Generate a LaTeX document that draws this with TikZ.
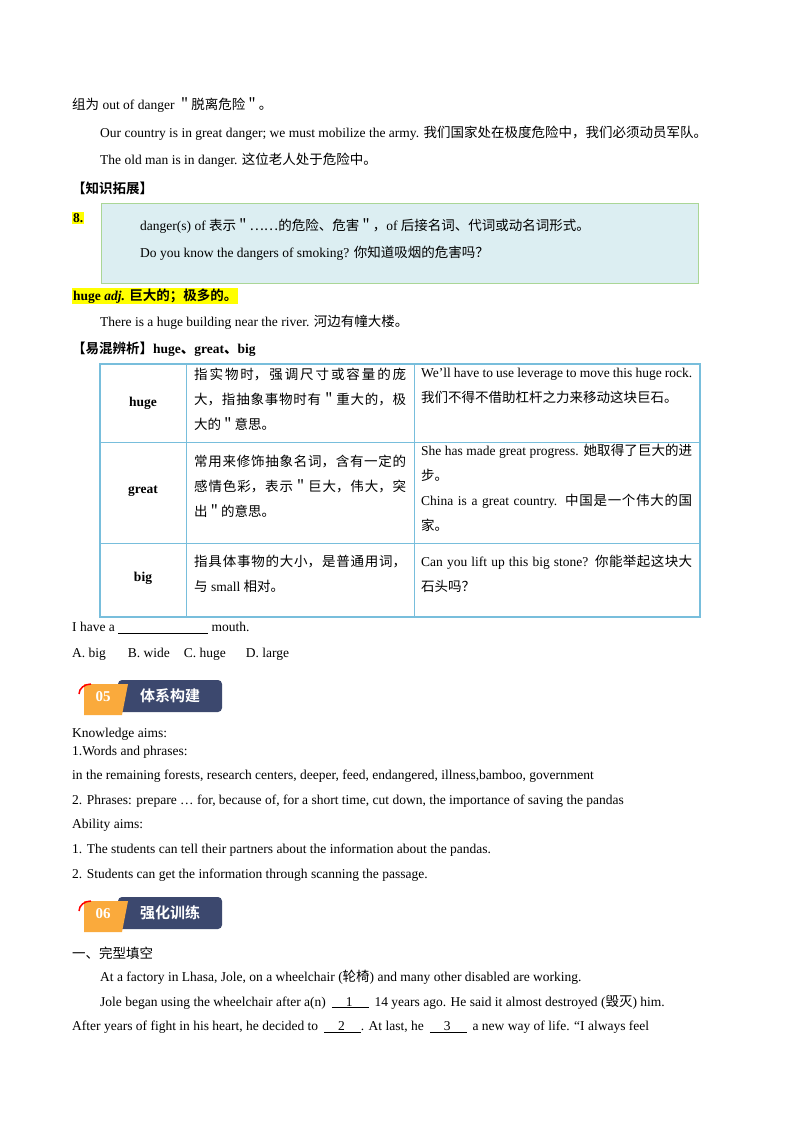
\documentclass[tikz,border=0pt]{standalone}
\usepackage{fontspec}
\setmainfont{Liberation Serif}
\newfontfamily\cjfont{Noto Sans CJK SC}
\newfontfamily\cjbold{Noto Sans CJK SC Bold}
\XeTeXlinebreaklocale "zh"
\XeTeXlinebreakskip=0pt plus 1pt
\newcommand{\cj}[1]{{\cjfont #1}}
\newcommand{\cjb}[1]{{\cjbold #1}}
\definecolor{boxfill}{RGB}{220,238,242}
\definecolor{boxline}{RGB}{170,214,150}
\definecolor{tabline}{RGB}{120,190,220}
\definecolor{hl}{RGB}{255,255,0}
\definecolor{navy}{RGB}{60,72,110}
\definecolor{orng}{RGB}{250,170,60}
\begin{document}
\begin{tikzpicture}[x=1pt,y=-1pt,
  txt/.style={anchor=west,inner sep=0pt,font=\fontsize{13.5}{15}\selectfont},
  cell/.style={anchor=north west,inner sep=0pt,text width=#1,align=justify,font=\fontsize{13.5}{25}\selectfont},
  badgetxt/.style={inner sep=0pt,text=white,font=\fontsize{15}{15}\selectfont}]
\useasboundingbox (0,0) rectangle (800,1132);
\fill[white] (0,0) rectangle (800,1132);
\node[txt] (l1) at (72,105) {\cj{组为} out of danger \cj{＂脱离危险＂。}};
\node[txt] (l2) at (100,133) {Our country is in great danger; we must mobilize the army. \cj{我们国家处在极度危险中，我们必须动员军队。}};
\node[txt] (l3) at (100,160) {The old man is in danger. \cj{这位老人处于危险中。}};
\node[txt] (l4) at (72,188) {\cjb{【知识拓展】}};
\draw[boxline,fill=boxfill,line width=1pt] (101,203) rectangle (698,283);
\node[txt,fill=hl,inner sep=1pt] (n8) at (72,218) {\textbf{8.}};
\node[txt] (b1) at (140,226) {danger(s) of \cj{表示＂……的危险、危害＂，}of \cj{后接名词、代词或动名词形式。}};
\node[txt] (b2) at (140,253) {Do you know the dangers of smoking? \cj{你知道吸烟的危害吗？}};
\node[txt,fill=hl,inner sep=1pt] (hg) at (72,296) {\textbf{huge \textit{adj.}} \cjb{巨大的；极多的。}};
\node[txt] (l5) at (100,322) {There is a huge building near the river. \cj{河边有幢大楼。}};
\node[txt] (l6) at (72,349) {\cjb{【易混辨析】}\textbf{huge\cjb{、}great\cjb{、}big}};
% table
\draw[tabline,line width=1.8pt] (100,364) rectangle (700,617);
\draw[tabline,line width=1pt] (100,442) -- (700,442) (100,543) -- (700,543);
\draw[tabline,line width=1pt] (186,364) -- (186,617) (414,364) -- (414,617);
\node[txt,anchor=center] (h1) at (143,403) {\textbf{huge}};
\node[txt,anchor=center] (h2) at (143,491) {\textbf{great}};
\node[txt,anchor=center] (h3) at (143,578) {\textbf{big}};
\node[cell=212pt] (c1) at (194,368) {\cj{指实物时，强调尺寸或容量的庞大，指抽象事物时有＂重大的，极大的＂意思。}};
\node[cell=212pt] (c2) at (194,455) {\cj{常用来修饰抽象名词，含有一定的感情色彩，表示＂巨大，伟大，突出＂的意思。}};
\node[cell=212pt] (c3) at (194,555) {\cj{指具体事物的大小，是普通用词，与} small \cj{相对。}};
\node[cell=271pt] (d1) at (421,368) {We'll have to use leverage to move this huge rock. \cj{我们不得不借助杠杆之力来移动这块巨石。}};
\node[cell=271pt] (d2) at (421,444) {She has made great progress. \cj{她取得了巨大的进步。}\\China is a great country. \cj{中国是一个伟大的国家。}};
\node[cell=271pt] (d3) at (421,555) {Can you lift up this big stone? \cj{你能举起这块大石头吗？}};
\node[txt] (q1) at (72,628) {I have a \underline{\hspace{90pt}} mouth.};
\node[txt] (q2) at (72,654) {A. big\hspace{22pt}B. wide\hspace{14pt}C. huge\hspace{20pt}D. large};
% badge 05
\fill[navy,rounded corners=4pt] (118,680) rectangle (222,712);
\fill[orng] (84,684) -- (128,684) -- (122,715) -- (84,715) -- cycle;
\draw[red,line width=1.5pt] (79,694) arc (180:270:12 and 10);
\node[badgetxt,font=\bfseries\fontsize{15}{15}\selectfont] (n05) at (103,697) {05};
\node[badgetxt] (t05) at (170,696) {\cjb{体系构建}};
\node[txt] (k1) at (72,734) {Knowledge aims:};
\node[txt] (k2) at (72,752) {1.Words and phrases:};
\node[txt] (k3) at (72,776) {in the remaining forests, research centers, deeper, feed, endangered, illness,bamboo, government};
\node[txt] (k4) at (72,801) {2. Phrases: prepare … for, because of, for a short time, cut down, the importance of saving the pandas};
\node[txt] (k5) at (72,825) {Ability aims:};
\node[txt] (k6) at (72,850) {1. The students can tell their partners about the information about the pandas.};
\node[txt] (k7) at (72,875) {2. Students can get the information through scanning the passage.};
% badge 06
\fill[navy,rounded corners=4pt] (118,897) rectangle (222,929);
\fill[orng] (84,901) -- (128,901) -- (122,932) -- (84,932) -- cycle;
\draw[red,line width=1.5pt] (79,911) arc (180:270:12 and 10);
\node[badgetxt,font=\bfseries\fontsize{15}{15}\selectfont] (n06) at (103,914) {06};
\node[badgetxt] (t06) at (170,913) {\cjb{强化训练}};
\node[txt] (p0) at (72,953) {\cj{一、完型填空}};
\node[txt] (p1) at (100,977) {At a factory in Lhasa, Jole, on a wheelchair (\cj{轮椅}) and many other disabled are working.};
\node[txt] (p2) at (100,1002) {Jole began using the wheelchair after a(n)\hspace{6pt}\underline{\hspace{14pt}1\hspace{16pt}}\hspace{6pt}14 years ago. He said it almost destroyed (\cj{毁灭}) him.};
\node[txt] (p3) at (72,1027) {After years of fight in his heart, he decided to\hspace{6pt}\underline{\hspace{14pt}2\hspace{16pt}}. At last, he\hspace{6pt}\underline{\hspace{14pt}3\hspace{16pt}}\hspace{6pt}a new way of life. “I always feel};
\end{tikzpicture}
\end{document}
